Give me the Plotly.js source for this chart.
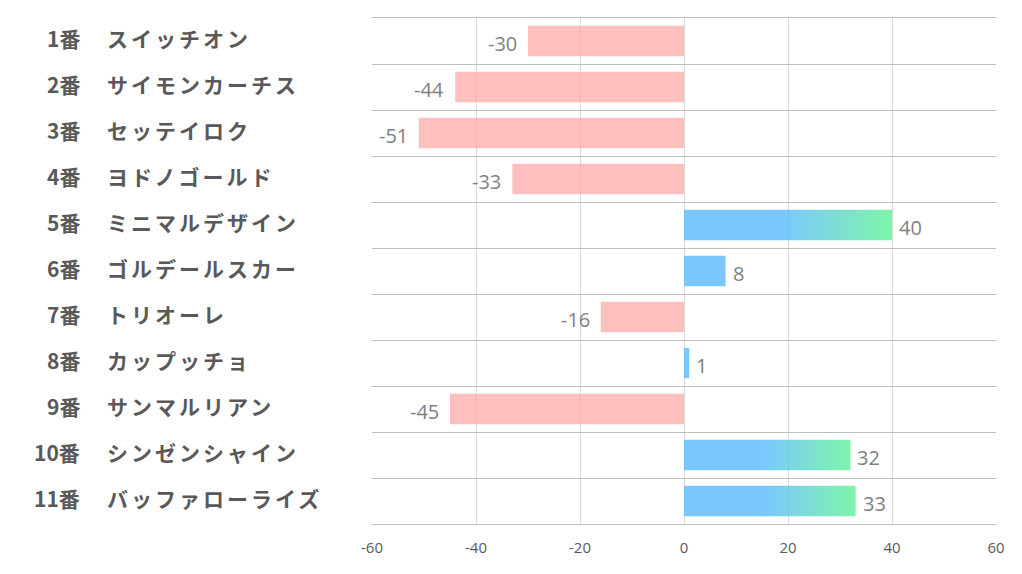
<!DOCTYPE html>
<html>
<head>
<meta charset="utf-8">
<script src="https://cdn.plot.ly/plotly-3.0.1.min.js"></script>
<style>html,body{margin:0;padding:0;background:#fff;}#chart{width:1022px;height:574px;}</style>
</head>
<body>
<div id="chart"></div>
<script>
var numbers = ["1番","2番","3番","4番","5番","6番","7番","8番","9番","10番","11番"];
var names = ["スイッチオン","サイモンカーチス","セッテイロク","ヨドノゴールド","ミニマルデザイン","ゴルデールスカー","トリオーレ","カップッチョ","サンマルリアン","シンゼンシャイン","バッファローライズ"];
var values = [-30,-44,-51,-33,40,8,-16,1,-45,32,33];
var xTicks = [-60,-40,-20,0,20,40,60];

var BAR_W = 0.66;
var PINK = "rgba(255,170,170,0.75)";
var BLUE = "rgba(89,186,255,0.8)";
var idx = values.map(function(v,i){return i;});
function isGrad(v){ return v >= 20; }

var traces = [{
  type: "bar",
  orientation: "h",
  x: values,
  y: idx,
  width: BAR_W,
  marker: {color: values.map(function(v){return v < 0 ? PINK : (isGrad(v) ? "rgba(0,0,0,0)" : BLUE);}), line: {width: 0}},
  hoverinfo: "none"
}];

values.forEach(function(v,i){
  if (isGrad(v)) {
    var h = BAR_W/2;
    traces.push({
      type: "scatter",
      mode: "lines",
      x: [0, v, v, 0, 0],
      y: [i-h, i-h, i+h, i+h, i-h],
      fill: "toself",
      opacity: 0.8,
      line: {width: 0},
      fillgradient: {
        type: "horizontal",
        start: 0,
        stop: v,
        colorscale: [[0,"rgb(89,186,255)"],[0.47,"rgb(89,186,255)"],[1,"rgb(94,242,149)"]]
      },
      hoverinfo: "none",
      showlegend: false
    });
  }
});

var annotations = [];
var labelFont = {family:"Noto Sans CJK JP, sans-serif", size:21, color:"#595959", weight:"bold"};
numbers.forEach(function(n,i){
  annotations.push({xref:"paper", yref:"y", x:-0.4647, y:i, yshift:3, text:n, showarrow:false, xanchor:"right", yanchor:"middle", font:labelFont});
  annotations.push({xref:"paper", yref:"y", x:-0.4279, y:i, yshift:3, text:'<span style="letter-spacing:3px">'+names[i]+'</span>', showarrow:false, xanchor:"left", yanchor:"middle", font:labelFont});
});
values.forEach(function(v,i){
  annotations.push({xref:"x", yref:"y", x:v, y:i, yshift:-2, xshift: v < 0 ? -9 : 5, text:String(v), showarrow:false,
    xanchor: v < 0 ? "right" : "left", yanchor:"middle",
    font:{family:"Open Sans, sans-serif", size:20, color:"#7f7f7f"}});
});

var layout = {
  width: 1022, height: 574,
  margin: {l: 372, r: 26, t: 18, b: 50, pad: 0},
  paper_bgcolor: "#fff", plot_bgcolor: "#fff",
  showlegend: false,
  xaxis: {
    range: [-60, 60], tickvals: xTicks, ticktext: xTicks.map(String),
    showgrid: true, gridcolor: "#d9d9d9", gridwidth: 1,
    zeroline: false, showline: true, mirror: true, linecolor: "#bfbfbf", linewidth: 1,
    ticks: "", ticklabelstandoff: 10,
    tickfont: {family: "Open Sans, sans-serif", size: 15, color: "#595959"},
    fixedrange: true
  },
  yaxis: {
    range: [10.5, -0.5], tickmode: "linear", tick0: -0.5, dtick: 1,
    showticklabels: false, showgrid: true, gridcolor: "#bfbfbf", gridwidth: 1,
    zeroline: false, showline: false, ticks: "", fixedrange: true
  },
  annotations: annotations
};

Plotly.newPlot("chart", traces, layout, {displayModeBar: false, staticPlot: true});
</script>
</body>
</html>
